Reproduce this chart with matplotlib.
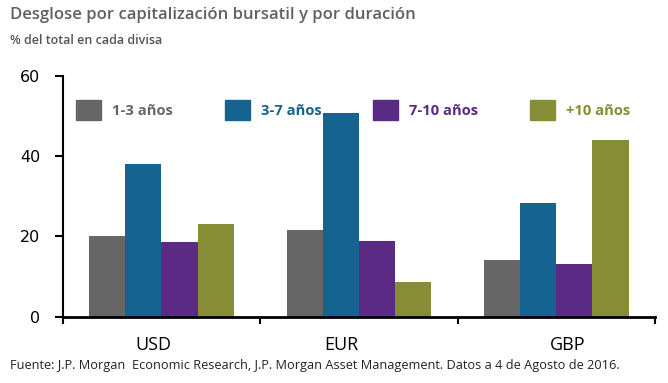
import matplotlib.pyplot as plt
import numpy as np
from matplotlib.patches import Patch

plt.rcParams['font.family'] = ['Open Sans', 'DejaVu Sans']

# data
divisas = ['USD', 'EUR', 'GBP']
series = ['1-3 años', '3-7 años', '7-10 años', '+10 años']
v_1_3 = [20.2, 21.6, 14.1]
v_3_7 = [38.0, 50.6, 28.3]
v_7_10 = [18.5, 18.9, 13.1]
v_10 = [23.2, 8.6, 44.1]
colores = ['#666666', '#156390', '#5a2a84', '#868d35']

fig = plt.figure(figsize=(6.68, 3.83), dpi=100)
ax = fig.add_axes([0.0939, 0.1731, 0.8866, 0.6293])

x = np.arange(len(divisas))
w = 0.183
valores = [v_1_3, v_3_7, v_7_10, v_10]
for i, (vals, c) in enumerate(zip(valores, colores)):
    ax.bar(x + (i - 1.5) * w, vals, width=w, color=c, label=series[i])

ax.set_xlim(-0.5, 2.5)
ax.set_ylim(0, 60)
ax.set_yticks([0, 20, 40, 60])
ax.tick_params(axis='y', length=6, width=1.5, pad=10)
for lb in ax.get_yticklabels():
    lb.set_fontfamily('DejaVu Sans')
    lb.set_fontsize(11.5)

# category separators as minor ticks, labels as major ticks
ax.set_xticks([-0.5, 0.5, 1.5, 2.5], minor=True)
ax.set_xticks([-0.04, 0.91, 2.06])
ax.set_xticklabels(divisas, fontsize=13)
ax.tick_params(axis='x', which='major', length=0, pad=14)
ax.tick_params(axis='x', which='minor', length=5, width=1.5, direction='out')

for s in ['top', 'right']:
    ax.spines[s].set_visible(False)
ax.spines['left'].set_linewidth(1.5)
ax.spines['bottom'].set_linewidth(2)

handles = [Patch(color=c) for c in colores]
leg = ax.legend(handles, series, loc='center left', bbox_to_anchor=(0.0225, 0.858),
                ncol=4, frameon=False, borderpad=0, borderaxespad=0,
                handlelength=1.7, handleheight=1.7, handletextpad=0.75,
                columnspacing=3.5, prop={'size': 10.6, 'weight': 'bold'})
for t, c in zip(leg.get_texts(), colores):
    t.set_color(c)

fig.text(0.015, 0.96, 'Desglose por capitalización bursatil y por duración',
         fontsize=12, fontweight='semibold', color='#606060', va='center')
fig.text(0.015, 0.895, '% del total en cada divisa',
         fontsize=9, fontweight='semibold', color='#555555', va='center')
fig.text(0.015, 0.045, 'Fuente: J.P. Morgan  Economic Research, J.P. Morgan Asset Management. Datos a 4 de Agosto de 2016.',
         fontsize=9.2, color='#222222', va='center')

fig.savefig('out.png', dpi=100)
